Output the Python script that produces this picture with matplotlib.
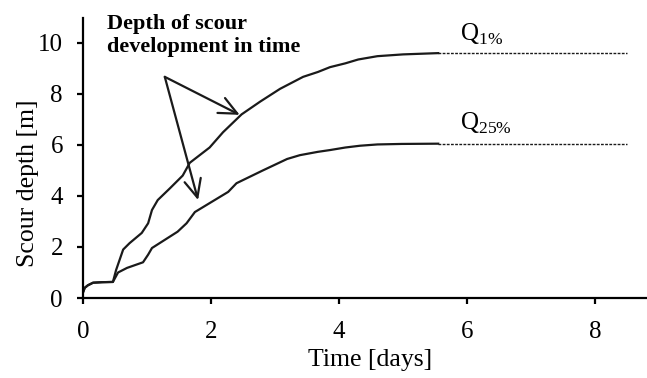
# scour depth development in time for Q1% and Q25%

import matplotlib.pyplot as plt

plt.rcParams['font.family'] = 'Liberation Serif'
plt.rcParams['mathtext.fontset'] = 'custom'
plt.rcParams['mathtext.rm'] = 'Liberation Serif'

t_q1 = [0, 0.03, 0.08, 0.16, 0.3, 0.47, 0.52, 0.63, 0.73, 0.92, 1.02, 1.08, 1.17, 1.36, 1.56,
        1.67, 1.98, 2.19, 2.48, 2.77, 3.08, 3.44, 3.67, 3.86, 4.1, 4.3, 4.6, 5.0, 5.55]
d_q1 = [0.2, 0.4, 0.5, 0.6, 0.62, 0.63, 1.1, 1.9, 2.15, 2.55, 2.93, 3.45, 3.84, 4.3, 4.8,
        5.3, 5.9, 6.5, 7.2, 7.7, 8.2, 8.67, 8.86, 9.05, 9.2, 9.35, 9.48, 9.55, 9.6]
t_q1_ext = [5.55, 8.5]
d_q1_ext = [9.6, 9.6]

t_q25 = [0, 0.03, 0.08, 0.16, 0.3, 0.47, 0.55, 0.69, 0.94, 1.02, 1.08, 1.23, 1.48, 1.62,
         1.75, 1.98, 2.27, 2.4, 2.81, 3.19, 3.39, 3.67, 3.86, 4.1, 4.33, 4.6, 4.98, 5.55]
d_q25 = [0.2, 0.4, 0.5, 0.6, 0.62, 0.63, 1.0, 1.18, 1.4, 1.7, 1.96, 2.2, 2.6, 2.93,
         3.37, 3.72, 4.16, 4.5, 5.0, 5.45, 5.6, 5.73, 5.8, 5.9, 5.97, 6.02, 6.04, 6.05]
t_q25_ext = [5.55, 8.5]
d_q25_ext = [6.05, 6.05]

fig = plt.figure(figsize=(6.47, 3.78), dpi=100)
ax = fig.add_axes([0.128, 0.2116, 0.872, 0.741])

ax.plot(t_q1, d_q1, color='#1a1a1a', lw=1.6)
ax.plot(t_q1_ext, d_q1_ext, color='#1a1a1a', lw=1.0, linestyle=(0, (2, 1)))
ax.plot(t_q25, d_q25, color='#1a1a1a', lw=1.6)
ax.plot(t_q25_ext, d_q25_ext, color='#1a1a1a', lw=1.0, linestyle=(0, (2, 1)))

ax.set_xlim(0, 8.81)
ax.set_ylim(0, 10.98)
ax.set_xticks([0, 2, 4, 6, 8])
ax.set_yticks([0, 2, 4, 6, 8, 10])
ax.spines['top'].set_visible(False)
ax.spines['right'].set_visible(False)
ax.spines['left'].set_linewidth(1.6)
ax.spines['bottom'].set_linewidth(1.6)
ax.tick_params(direction='out', length=4.3, width=1.6, labelsize=18)
ax.tick_params(axis='x', pad=12.5)
ax.tick_params(axis='y', pad=10)

ax.set_xlabel('Time [days]', fontsize=18.5)
ax.set_ylabel('Scour depth [m]', fontsize=18.5)
ax.xaxis.set_label_coords(0.509, -0.183)
ax.yaxis.set_label_coords(-0.077, 0.41)

ax.text(0.375, 11.15, 'Depth of scour\ndevelopment in time', fontsize=16,
        fontweight='bold', va='top', ha='left', linespacing=1.2, clip_on=False)

ax.text(5.89, 10.1, r'Q$_{\mathrm{1\%}}$', fontsize=18)
ax.text(5.89, 6.6, r'Q$_{\mathrm{25\%}}$', fontsize=18)

for tip in [(2.45, 7.18), (1.8, 3.84)]:
    ax.annotate('', xy=tip, xytext=(1.28, 8.67),
                arrowprops=dict(arrowstyle='->, head_length=0.65, head_width=0.3',
                                lw=1.6, color='#1a1a1a',
                                mutation_scale=20, shrinkA=0, shrinkB=0))

plt.savefig('out.png', dpi=100)
